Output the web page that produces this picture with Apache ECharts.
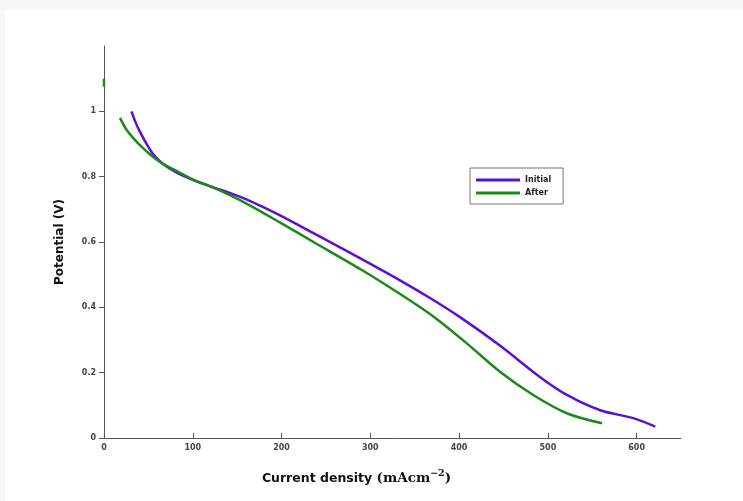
<!DOCTYPE html>
<html>
<head>
<meta charset="utf-8">
<script src="https://cdn.jsdelivr.net/npm/echarts@6/dist/echarts.min.js"></script>
<style>
  body{margin:0;background:#f7f7f7;}
  #chart{position:absolute;left:5px;top:10px;width:738px;height:491px;background:#fff;}
</style>
</head>
<body>
<div id="chart"></div>
<script>
// current density (mA/cm2), potential (V)
const initialData = [[31,1.0],[35,0.97],[40,0.94],[48,0.90],[55,0.87],[66,0.84],[80,0.815],[100,0.79],[123,0.767],[140,0.752],[161,0.730],[180,0.706],[200,0.679],[236,0.627],[280,0.563],[334,0.482],[370,0.424],[401,0.37],[446,0.283],[491,0.187],[522,0.131],[559,0.085],[597,0.06],[621,0.035]];
const afterData = [[18,0.98],[25,0.945],[33,0.918],[41,0.895],[52,0.868],[66,0.84],[80,0.82],[100,0.792],[123,0.767],[161,0.717],[200,0.657],[236,0.60],[290,0.515],[334,0.44],[371,0.372],[409,0.289],[446,0.203],[484,0.131],[522,0.075],[561,0.045]];
const afterStub = [[0,1.075],[0,1.1]];
const xTicks = [0,100,200,300,400,500,600];
const yTicks = [0,0.2,0.4,0.6,0.8,1];

const chart = echarts.init(document.getElementById('chart'));
const tickFont = {fontSize: 8, fontWeight: 'bold', color: '#444', fontFamily: 'DejaVu Sans'};
chart.setOption({
  animation: false,
  grid: {left: 99, right: 62, top: 36, bottom: 63},
  legend: {
    left: 465, top: 158, orient: 'vertical', itemGap: 5,
    itemWidth: 44, itemHeight: 3,
    padding: [8, 12, 7, 6],
    borderColor: '#777', borderWidth: 1,
    textStyle: {fontSize: 8, fontWeight: 'bold', color: '#222', fontFamily: 'DejaVu Sans', lineHeight: 7},
    data: [{name: 'Initial', icon: 'rect'}, {name: 'After', icon: 'rect'}]
  },
  xAxis: {
    type: 'value', min: 0, max: 650,
    name: '{a|Current density }{b|(mAcm}{c|−2}{b|)}',
    nameLocation: 'middle', nameGap: 29,
    nameTextStyle: {
      padding: [0, 72, 0, 0],
      rich: {
        a: {fontSize: 12.5, fontWeight: 'bold', fontFamily: 'DejaVu Sans', color: '#111', lineHeight: 18, verticalAlign: 'bottom'},
        b: {fontSize: 13.5, fontWeight: 'bold', fontFamily: 'DejaVu Serif', color: '#111', lineHeight: 18, verticalAlign: 'bottom'},
        c: {fontSize: 9.5, fontWeight: 'bold', fontFamily: 'DejaVu Serif', color: '#111', lineHeight: 12, verticalAlign: 'top', padding: [2, 0, 0, 0]}
      }
    },
    splitLine: {show: false},
    axisLine: {lineStyle: {color: '#555', width: 1}},
    axisTick: {inside: true, length: 5, customValues: xTicks, lineStyle: {color: '#555'}},
    axisLabel: Object.assign({customValues: xTicks, margin: 6}, tickFont)
  },
  yAxis: {
    type: 'value', min: 0, max: 1.2,
    name: 'Potential (V)', nameLocation: 'middle', nameGap: 38,
    nameTextStyle: {fontSize: 12, fontWeight: 'bold', fontFamily: 'DejaVu Sans', color: '#111'},
    splitLine: {show: false},
    axisLine: {show: true, lineStyle: {color: '#555', width: 1}},
    axisTick: {show: true, length: 5, customValues: yTicks, lineStyle: {color: '#555'}},
    axisLabel: Object.assign({customValues: yTicks, margin: 8}, tickFont)
  },
  series: [
    {name: 'Initial', type: 'line', data: initialData, smooth: 0.3, showSymbol: false,
     lineStyle: {color: '#5a10d8', width: 2.5}, itemStyle: {color: '#5a10d8'}},
    {name: 'After', type: 'line', data: afterData, smooth: 0.3, showSymbol: false,
     lineStyle: {color: '#1a8a1a', width: 2.5}, itemStyle: {color: '#1a8a1a'}},
    {name: 'afterStub', type: 'line', data: afterStub, showSymbol: false,
     lineStyle: {color: '#1a8a1a', width: 2.5}}
  ]
});
</script>
</body>
</html>
